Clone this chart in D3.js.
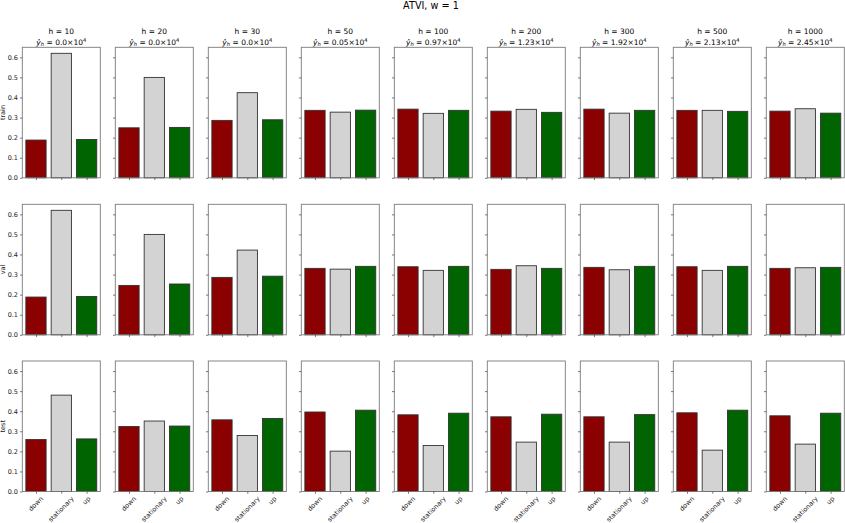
<!DOCTYPE html>
<html>
<head>
<meta charset="utf-8">
<script src="https://cdn.jsdelivr.net/npm/d3@7"></script>
<style>
  html, body { margin: 0; padding: 0; background: #fff; }
  svg { display: block; font-family: "DejaVu Sans", sans-serif; }
</style>
</head>
<body>
<svg id="chart" width="845" height="523"></svg>
<script>
// ---------- data ----------
const chartTitle = "ATVI, w = 1";
const horizons = [10, 20, 30, 50, 100, 200, 300, 500, 1000];
const yhatValues = ["0.0", "0.0", "0.0", "0.05", "0.97", "1.23", "1.92", "2.13", "2.45"];
const categories = ["down", "stationary", "up"];
const rowNames = ["train", "val", "test"];
const yTicks = [0.0, 0.1, 0.2, 0.3, 0.4, 0.5, 0.6];

const trainDown = [0.188, 0.249, 0.286, 0.336, 0.342, 0.332, 0.342, 0.336, 0.332];
const trainStat = [0.620, 0.500, 0.424, 0.327, 0.321, 0.341, 0.322, 0.336, 0.344];
const trainUp   = [0.191, 0.251, 0.289, 0.337, 0.336, 0.326, 0.336, 0.331, 0.322];

const valDown = [0.188, 0.246, 0.286, 0.331, 0.339, 0.326, 0.336, 0.339, 0.331];
const valStat = [0.620, 0.500, 0.422, 0.327, 0.321, 0.344, 0.324, 0.321, 0.334];
const valUp   = [0.191, 0.253, 0.292, 0.341, 0.341, 0.331, 0.341, 0.341, 0.336];

const testDown = [0.259, 0.324, 0.357, 0.396, 0.382, 0.372, 0.372, 0.392, 0.377];
const testStat = [0.480, 0.351, 0.279, 0.201, 0.229, 0.246, 0.246, 0.206, 0.236];
const testUp   = [0.262, 0.326, 0.364, 0.405, 0.390, 0.385, 0.383, 0.405, 0.390];

const barColors = ["#8b0000", "#d3d3d3", "#006400"];

// ---------- layout ----------
const rowsData = [
  [trainDown, trainStat, trainUp],
  [valDown, valStat, valUp],
  [testDown, testStat, testUp]
];
const panelW = 78, panelH = 130.5;
const left0 = 22.3, colStep = 93;
const rowTops = [47.3, 204.3, 361];
const tickLen = 2.3;
const smallFont = 6.5;

const svg = d3.select("#chart");

svg.append("text")
  .attr("x", 431).attr("y", 9.3)
  .attr("text-anchor", "middle")
  .attr("font-size", 9.7)
  .attr("fill", "#000")
  .text(chartTitle);

const x = d3.scaleLinear().domain([-0.54, 2.54]).range([0, panelW]);
const y = d3.scaleLinear().domain([0, 0.65]).range([panelH, 0]);
const barHalf = 0.4;

rowsData.forEach((series, r) => {
  horizons.forEach((h, c) => {
    const g = svg.append("g")
      .attr("transform", `translate(${left0 + c * colStep},${rowTops[r]})`);

    // bars
    const vals = categories.map((cat, k) => ({cat, k, v: series[k][c]}));
    g.selectAll("rect.bar").data(vals).enter().append("rect")
      .attr("class", "bar")
      .attr("x", d => x(d.k - barHalf))
      .attr("width", d => x(d.k + barHalf) - x(d.k - barHalf))
      .attr("y", d => y(d.v))
      .attr("height", d => y(0) - y(d.v))
      .attr("fill", d => barColors[d.k])
      .attr("stroke", "#333")
      .attr("stroke-width", 0.9);

    // frame
    g.append("rect")
      .attr("x", 0).attr("y", 0)
      .attr("width", panelW).attr("height", panelH)
      .attr("fill", "none")
      .attr("stroke", "#7a7a7a")
      .attr("stroke-width", 0.9);

    // y ticks
    const yAxis = d3.axisLeft(y).tickValues(yTicks).tickSize(tickLen).tickPadding(2)
      .tickFormat(c === 0 ? d3.format(".1f") : () => "");
    const ya = g.append("g").call(yAxis);
    ya.select(".domain").remove();
    ya.selectAll("line").attr("stroke", "#444").attr("stroke-width", 0.7);
    ya.selectAll("text").attr("font-size", smallFont).attr("font-family", "DejaVu Sans").attr("fill", "#222");

    // x ticks
    const xAxis = d3.axisBottom(x).tickValues([0, 1, 2]).tickSize(tickLen).tickFormat(() => "");
    const xa = g.append("g").attr("transform", `translate(0,${panelH})`).call(xAxis);
    xa.select(".domain").remove();
    xa.selectAll("line").attr("stroke", "#444").attr("stroke-width", 0.7);

    // rotated category labels on bottom row
    if (r === 2) {
      categories.forEach((cat, k) => {
        const t = g.append("text")
          .attr("font-size", smallFont)
          .attr("fill", "#222")
          .attr("text-anchor", "middle")
          .attr("dominant-baseline", "central")
          .text(cat);
        const L = t.node().getComputedTextLength();
        const th = smallFont * 1.0;
        const bbH = (L + th) * Math.SQRT1_2;
        const topY = panelH + tickLen + 1.6;
        t.attr("transform", `translate(${x(k)},${topY + bbH / 2}) rotate(-45)`);
      });
    }

    // column titles on top row
    if (r === 0) {
      g.append("text")
        .attr("x", panelW / 2).attr("y", -13.3)
        .attr("text-anchor", "middle")
        .attr("font-size", 7.5)
        .attr("fill", "#000")
        .text(`h = ${h}`);
      const t2 = g.append("text")
        .attr("x", panelW / 2).attr("y", -2.8)
        .attr("text-anchor", "middle")
        .attr("font-size", 7.5)
        .attr("fill", "#000");
      t2.append("tspan").attr("font-style", "italic").text("ŷ");
      t2.append("tspan").attr("font-size", 5.2).attr("dy", 1.4).attr("font-style", "italic").text("h");
      t2.append("tspan").attr("dy", -1.4).text(` = ${yhatValues[c]}×10`);
      t2.append("tspan").attr("font-size", 5.2).attr("dy", -3).text("4");
    }

    // row labels
    if (c === 0) {
      g.append("text")
        .attr("transform", `translate(${-19.5},${panelH / 2}) rotate(-90)`)
        .attr("text-anchor", "middle")
        .attr("dominant-baseline", "central")
        .attr("font-size", smallFont)
        .attr("fill", "#222")
        .text(rowNames[r]);
    }
  });
});
</script>
</body>
</html>
